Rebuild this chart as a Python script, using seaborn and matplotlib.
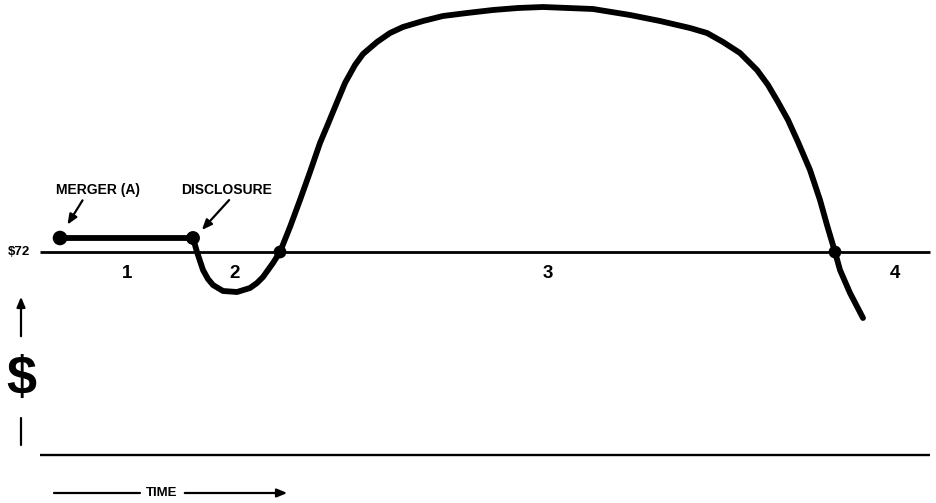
import seaborn as sns
import matplotlib.pyplot as plt
import pandas as pd

# price path over time (price relative to the $72 offer)
time_pts = [6.0, 19.3, 19.7, 20.3, 20.8, 21.3, 22.3, 23.7, 25.0, 25.7, 26.3, 26.8, 27.3,
            28.0, 29.0, 30.0, 31.0, 32.0, 32.8, 33.5, 34.5, 35.5, 36.3, 37.7, 39.0, 40.3,
            42.3, 44.3, 46.7, 49.3, 51.8, 54.3, 56.8, 59.3, 63.0, 66.0, 69.0, 70.7, 72.3,
            74.0, 75.7, 76.8, 77.8, 78.8, 79.8, 81.0, 82.0, 82.7, 83.5, 84.0, 85.0, 86.3]
price_pts = [73.4, 73.4, 72.0, 70.2, 69.3, 68.7, 68.1, 68.0, 68.4, 68.9, 69.5, 70.2, 70.9,
             72.0, 74.5, 77.2, 80.0, 82.9, 84.8, 86.5, 88.9, 90.7, 91.8, 93.0, 93.9, 94.5,
             95.1, 95.6, 95.9, 96.2, 96.4, 96.5, 96.4, 96.3, 95.7, 95.1, 94.4, 93.9, 93.0,
             91.9, 90.2, 88.7, 87.0, 85.2, 83.0, 80.2, 77.2, 74.7, 72.0, 70.2, 67.9, 65.4]

# marked events: merger, disclosure, crossings of the offer price
event_time = [6.0, 19.3, 28.0, 83.5]
event_price = [73.4, 73.4, 72.0, 72.0]

offer_price = 72.0
phase_labels = ["1", "2", "3", "4"]
phase_time = [12.7, 23.5, 54.8, 89.5]

df = pd.DataFrame({"time": time_pts, "price": price_pts})
ev = pd.DataFrame({"time": event_time, "price": event_price})

sns.set_style("white")
plt.rcParams['font.family'] = ['Liberation Sans', 'DejaVu Sans']
plt.rcParams['text.color'] = 'black'

fig = plt.figure(figsize=(9.36, 5.03), dpi=100)
ax = fig.add_axes([0, 0, 1, 1])
ax.set_xlim(0, 93.6)
ax.set_ylim(46.9, 97.2)
ax.axis('off')

# reference lines
ax.plot([4.0, 93.0], [offer_price, offer_price], color='black', lw=2.0, solid_capstyle='butt')
ax.plot([4.0, 93.0], [51.7, 51.7], color='black', lw=1.7, solid_capstyle='butt')

sns.lineplot(data=df, x="time", y="price", sort=False, color='black', lw=4.2, ax=ax,
             solid_capstyle='round', solid_joinstyle='round')
sns.scatterplot(data=ev, x="time", y="price", color='black', s=[110, 100, 85, 85],
                edgecolor='black', linewidth=0, ax=ax, zorder=5)
ax.set_xlabel("")
ax.set_ylabel("")

ax.text(1.9, offer_price, "$72", fontsize=9.5, fontweight='bold', ha='center', va='center')

for lab, t in zip(phase_labels, phase_time):
    ax.text(t, 69.9, lab, fontsize=13.5, fontweight='bold', ha='center', va='center')

ax.text(9.8, 78.2, "MERGER (A)", fontsize=10, fontweight='bold', ha='center', va='center')
ax.text(22.7, 78.2, "DISCLOSURE", fontsize=10, fontweight='bold', ha='center', va='center')

arrow_kw = dict(arrowstyle='-|>,head_length=0.6,head_width=0.25', color='black', lw=1.6)
ax.annotate("", xy=(6.6, 74.5), xytext=(8.4, 77.4), arrowprops=arrow_kw)
ax.annotate("", xy=(20.0, 74.0), xytext=(23.1, 77.4), arrowprops=arrow_kw)

# $ axis indicator
ax.text(2.1, 59.2, "$", fontsize=39, fontweight='bold', ha='center', va='center')
ax.annotate("", xy=(2.1, 67.8), xytext=(2.1, 63.3), arrowprops=arrow_kw)
ax.plot([2.1, 2.1], [52.7, 55.4], color='black', lw=1.6)

# time indicator
ax.text(16.2, 47.9, "TIME", fontsize=9.5, fontweight='bold', ha='center', va='center')
ax.plot([5.4, 14.0], [47.9, 47.9], color='black', lw=1.6)
ax.annotate("", xy=(29.0, 47.9), xytext=(18.2, 47.9), arrowprops=arrow_kw)

fig.savefig("out.png", dpi=100)
